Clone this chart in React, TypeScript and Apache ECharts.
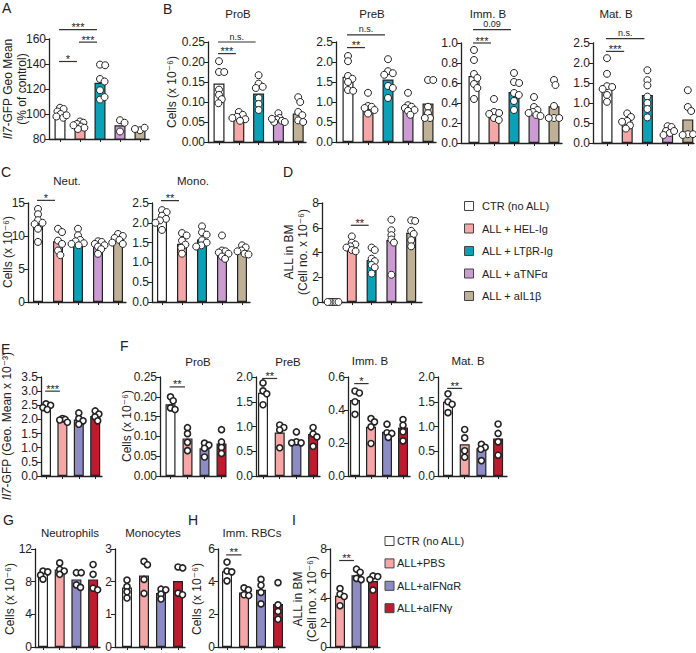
import React, { useEffect, useRef } from "react";
import * as echarts from "echarts";

const FONT = '"Liberation Sans", Arial, "DejaVu Sans", sans-serif';
const INK = "#222";

// ---------- groups ----------
const groupsTop = ["CTR (no ALL)", "ALL + HEL-Ig", "ALL + LTβR-Ig", "ALL + aTNFα", "ALL + aIL1β"];
const colorsTop = ["#ffffff", "#F4A7A6", "#0AA0B6", "#CB9BD2", "#BFB196"];
const groupsBottom = ["CTR (no ALL)", "ALL+PBS", "ALL+aIFNαR", "ALL+aIFNγ"];
const colorsBottom = ["#ffffff", "#F4A7A6", "#8D8BC6", "#BE1B2F"];

type Sig = [number, number, number, string];

// ---------- A ----------
const aTicks = ["80", "100", "120", "140", "160"];
const aBars = [100, 91, 125, 91, 88];
const aPoints = [[105, 104, 102, 100, 98, 97, 99], [94, 93, 92, 90, 89, 88, 91], [139.5, 139, 128, 126, 119, 111.5, 113.5], [95, 93, 86], [87, 89, 88]];
const aSig: Sig[] = [[0, 1, 142, "*"], [1, 2, 157.5, "***"], [0, 2, 167.5, "***"]];

// ---------- B ----------
const bProBTicks = ["0.00", "0.05", "0.10", "0.15", "0.20", "0.25"];
const bProBBars = [0.146, 0.061, 0.121, 0.057, 0.071];
const bProBPoints = [[0.202, 0.175, 0.175, 0.131, 0.118, 0.107, 0.097], [0.075, 0.068, 0.063, 0.06, 0.057, 0.053], [0.167, 0.146, 0.138, 0.135, 0.11, 0.095, 0.08], [0.072, 0.06, 0.056, 0.053, 0.05, 0.05, 0.058], [0.112, 0.1, 0.075, 0.067, 0.054, 0.05]];
const bProBSig: Sig[] = [[0, 1, 0.221, "***"], [0, 2, 0.25, "n.s."]];

const bPreBTicks = ["0.0", "0.5", "1.0", "1.5", "2.0", "2.5"];
const bPreBBars = [1.63, 0.875, 1.56, 0.86, 0.96];
const bPreBPoints = [[2.15, 2.02, 1.65, 1.58, 1.5, 1.3, 1.28], [1.23, 0.9, 0.88, 0.85, 0.8, 0.71], [2.07, 1.77, 1.72, 1.68, 1.4, 1.35, 1.1], [1.23, 0.92, 0.88, 0.85, 0.8, 0.78, 0.68], [1.55, 1.55, 0.88, 0.72, 0.6, 0.6]];
const bPreBSig: Sig[] = [[0, 1, 2.36, "**"], [0, 2, 2.68, "n.s."]];

const bImmBTicks = ["0.0", "0.2", "0.4", "0.6", "0.8", "1.0"];
const bImmBBars = [0.67, 0.293, 0.51, 0.327, 0.367];
const bImmBPoints = [[0.93, 0.83, 0.69, 0.65, 0.59, 0.55, 0.44], [0.44, 0.31, 0.3, 0.29, 0.25, 0.23], [0.7, 0.61, 0.6, 0.5, 0.48, 0.42, 0.33], [0.46, 0.36, 0.33, 0.31, 0.3, 0.28, 0.27], [0.63, 0.58, 0.37, 0.25, 0.25, 0.25]];
const bImmBSig: Sig[] = [[0, 1, 1.0, "***"], [0, 2, 1.133, "0.09"]];

const bMatBTicks = ["0.0", "0.5", "1.0", "1.5", "2.0", "2.5"];
const bMatBBars = [1.45, 0.53, 1.2, 0.32, 0.59];
const bMatBPoints = [[2.12, 1.73, 1.42, 1.4, 1.35, 1.2, 1.03], [0.74, 0.65, 0.55, 0.53, 0.44, 0.36], [1.82, 1.57, 1.44, 1.16, 1.0, 0.85, 0.64], [0.42, 0.4, 0.3, 0.25, 0.2, 0.3], [1.32, 0.9, 0.8, 0.22, 0.22, 0.2]];
const bMatBSig: Sig[] = [[0, 1, 2.29, "***"], [0, 2, 2.61, "n.s."]];

// ---------- C ----------
const cNeutTicks = ["0", "5", "10", "15"];
const cNeutBars = [11.9, 9.2, 9.35, 8.4, 9.35];
const cNeutPoints = [[14.1, 13.3, 12.4, 12.0, 11.8, 11.1, 9.1], [11.1, 10.6, 9.3, 8.8, 7.8, 7.1], [11.1, 10.1, 9.4, 9.2, 8.9, 8.8, 8.6], [9.2, 9.1, 8.8, 8.6, 8.4, 8.0, 7.3], [10.3, 10.0, 9.7, 9.4, 9.0, 8.8]];
const cNeutSig: Sig[] = [[0, 1, 15.4, "*"]];

const cMonoTicks = ["0.0", "0.5", "1.0", "1.5", "2.0", "2.5"];
const cMonoBars = [2.1, 1.47, 1.58, 1.29, 1.29];
const cMonoPoints = [[2.32, 2.27, 2.18, 2.1, 2.06, 2.0, 1.82], [1.74, 1.68, 1.55, 1.45, 1.37, 1.22], [1.91, 1.76, 1.7, 1.56, 1.5, 1.43, 1.4], [1.68, 1.3, 1.28, 1.25, 1.22, 1.15, 1.09], [1.43, 1.38, 1.3, 1.28, 1.22, 1.2]];
const cMonoSig: Sig[] = [[0, 1, 2.56, "**"]];

// ---------- D ----------
const dTicks = ["0", "2", "4", "6", "8"];
const dBars = [0, 4.6, 3.4, 5.0, 5.6];
const dPoints = [[0, 0, 0, 0, 0, 0], [5.3, 4.8, 4.65, 4.5, 4.4, 4.2, 4.1], [4.4, 4.2, 3.5, 3.3, 3.0, 2.8, 2.3], [6.65, 5.8, 5.4, 5.05, 4.8, 2.2], [6.6, 6.55, 5.75, 5.5, 5.0, 4.5]];
const dSig: Sig[] = [[1, 2, 6.2, "**"]];

// ---------- E ----------
const eTicks = ["0.0", "0.5", "1.0", "1.5", "2.0", "2.5", "3.0", "3.5"];
const eBars = [2.45, 1.95, 2.0, 2.12];
const ePoints = [[2.55, 2.5, 2.42, 2.35], [2.03, 2.0, 1.98, 1.9], [2.23, 2.03, 1.95, 1.83], [2.3, 2.19, 2.09, 1.95]];
const eSig: Sig[] = [[0, 1, 3.0, "***"]];

// ---------- F ----------
const fProBTicks = ["0.00", "0.05", "0.10", "0.15", "0.20", "0.25"];
const fProBBars = [0.181, 0.095, 0.07, 0.082];
const fProBPoints = [[0.2, 0.19, 0.172, 0.168], [0.122, 0.107, 0.085, 0.064], [0.083, 0.078, 0.07, 0.048], [0.117, 0.086, 0.072, 0.057]];
const fProBSig: Sig[] = [[0, 1, 0.225, "**"]];

const fPreBTicks = ["0.0", "0.5", "1.0", "1.5", "2.0"];
const fPreBBars = [1.68, 0.88, 0.72, 0.85];
const fPreBPoints = [[1.88, 1.72, 1.66, 1.44], [1.03, 0.98, 0.93, 0.57], [0.89, 0.69, 0.67, 0.67], [0.98, 0.85, 0.79, 0.6]];
const fPreBSig: Sig[] = [[0, 1, 1.97, "**"]];

const fImmBTicks = ["0.0", "0.2", "0.4", "0.6"];
const fImmBBars = [0.46, 0.298, 0.268, 0.294];
const fImmBPoints = [[0.515, 0.503, 0.45, 0.374], [0.348, 0.328, 0.298, 0.197], [0.314, 0.262, 0.258, 0.234], [0.342, 0.308, 0.268, 0.213]];
const fImmBSig: Sig[] = [[0, 1, 0.56, "*"]];

const fMatBTicks = ["0.0", "0.5", "1.0", "1.5", "2.0"];
const fMatBBars = [1.5, 0.64, 0.56, 0.76];
const fMatBPoints = [[1.66, 1.5, 1.45, 1.28], [0.94, 0.77, 0.51, 0.38], [0.64, 0.58, 0.54, 0.31], [1.05, 0.86, 0.69, 0.42]];
const fMatBSig: Sig[] = [[0, 1, 1.77, "**"]];

// ---------- G ----------
const gNeutTicks = ["0", "4", "8", "12"];
const gNeutBars = [9.16, 9.48, 8.28, 8.28];
const gNeutPoints = [[9.3, 9.2, 8.8, 8.3], [10.3, 9.5, 9.3, 8.9], [9.1, 9.1, 7.6, 7.3], [10.1, 8.9, 7.2, 7.0]];
const gMonoTicks = ["0", "1", "2", "3"];
const gMonoBars = [1.82, 2.19, 1.65, 2.02];
const gMonoPoints = [[2.05, 1.85, 1.69, 1.5], [2.62, 2.52, 2.07, 1.64], [1.77, 1.75, 1.62, 1.47], [2.45, 2.42, 1.65, 1.6]];

// ---------- H ----------
const hTicks = ["0", "2", "4", "6"];
const hBars = [4.64, 3.34, 3.5, 2.64];
const hPoints = [[5.2, 4.65, 4.6, 4.05], [3.62, 3.5, 3.2, 3.15], [4.14, 3.78, 3.34, 2.64], [3.94, 2.58, 2.18, 1.7]];
const hSig: Sig[] = [[0, 1, 5.64, "**"]];

// ---------- I ----------
const iTicks = ["0", "2", "4", "6", "8"];
const iBars = [4.18, 5.85, 5.39];
const iPoints = [[4.77, 4.31, 4.12, 3.37], [6.35, 6.1, 5.6, 5.5], [5.8, 5.75, 5.5, 4.65]];
const iSig: Sig[] = [[0, 1, 7.06, "**"]];

// ---------- layout ----------
interface Panel {
  colors: string[]; ticks: string[]; bars: number[]; points: number[][]; sig: Sig[];
  ax: number; c0: number; step: number; end: number; top: number; bottom: number;
  barW: number; sym: number; bw: number; gap: number; spread: number;
}
const up = { barW: 11, sym: 7, bw: 1, gap: 5.2, spread: 6.5 };
const lo = { barW: 10, sym: 6, bw: 1.6, gap: 4.8, spread: 5 };
const cTop = colorsTop;
const cBot = colorsBottom;

const panels: Panel[] = [
  { colors: cTop, ticks: aTicks, bars: aBars, points: aPoints, sig: aSig, ax: 49, c0: 60, step: 20, end: 149, top: 39, bottom: 139, ...up },
  { colors: cTop, ticks: bProBTicks, bars: bProBBars, points: bProBPoints, sig: bProBSig, ax: 208, c0: 219, step: 19.8, end: 306, top: 42, bottom: 142, ...up },
  { colors: cTop, ticks: bPreBTicks, bars: bPreBBars, points: bPreBPoints, sig: bPreBSig, ax: 336, c0: 348, step: 20, end: 436, top: 42, bottom: 142, ...up },
  { colors: cTop, ticks: bImmBTicks, bars: bImmBBars, points: bImmBPoints, sig: bImmBSig, ax: 461, c0: 474, step: 20, end: 562, top: 43, bottom: 143, ...up },
  { colors: cTop, ticks: bMatBTicks, bars: bMatBBars, points: bMatBPoints, sig: bMatBSig, ax: 593, c0: 607, step: 20.2, end: 694, top: 43, bottom: 143, ...up },
  { colors: cTop, ticks: cNeutTicks, bars: cNeutBars, points: cNeutPoints, sig: cNeutSig, ax: 28, c0: 38, step: 20, end: 126, top: 203, bottom: 302, ...up, barW: 10 },
  { colors: cTop, ticks: cMonoTicks, bars: cMonoBars, points: cMonoPoints, sig: cMonoSig, ax: 152, c0: 162, step: 20, end: 250, top: 203, bottom: 302, ...up, barW: 10 },
  { colors: cTop, ticks: dTicks, bars: dBars, points: dPoints, sig: dSig, ax: 322, c0: 332, step: 19.8, end: 422, top: 203, bottom: 302, ...up, barW: 10, gap: 4 },
  { colors: cBot, ticks: eTicks, bars: eBars, points: ePoints, sig: eSig, ax: 41, c0: 46, step: 16.4, end: 102, top: 377, bottom: 476, ...lo },
  { colors: cBot, ticks: fProBTicks, bars: fProBBars, points: fProBPoints, sig: fProBSig, ax: 160, c0: 170.5, step: 17, end: 226, top: 377, bottom: 476, ...lo },
  { colors: cBot, ticks: fPreBTicks, bars: fPreBBars, points: fPreBPoints, sig: fPreBSig, ax: 256, c0: 263, step: 16.7, end: 320, top: 377, bottom: 476, ...lo },
  { colors: cBot, ticks: fImmBTicks, bars: fImmBBars, points: fImmBPoints, sig: fImmBSig, ax: 348, c0: 355, step: 16, end: 410, top: 377, bottom: 476, ...lo },
  { colors: cBot, ticks: fMatBTicks, bars: fMatBBars, points: fMatBPoints, sig: fMatBSig, ax: 438, c0: 448, step: 16.7, end: 507, top: 377, bottom: 476, ...lo },
  { colors: cBot, ticks: gNeutTicks, bars: gNeutBars, points: gNeutPoints, sig: [], ax: 35, c0: 43, step: 16.7, end: 100, top: 549, bottom: 649, ...lo },
  { colors: cBot, ticks: gMonoTicks, bars: gMonoBars, points: gMonoPoints, sig: [], ax: 115, c0: 127, step: 17, end: 185, top: 549, bottom: 649, ...lo },
  { colors: cBot, ticks: hTicks, bars: hBars, points: hPoints, sig: hSig, ax: 218, c0: 227, step: 17, end: 285, top: 549, bottom: 649, ...lo },
  { colors: cBot.slice(1), ticks: iTicks, bars: iBars, points: iPoints, sig: iSig, ax: 330, c0: 340, step: 16.5, end: 380, top: 549, bottom: 648, ...lo },
];

const letters: [string, number, number][] = [
  ["A", 2, 8], ["B", 163, 9], ["C", 1, 172], ["D", 283, 172], ["E", 1, 349],
  ["F", 120, 346], ["G", 3, 520], ["H", 188, 520], ["I", 292, 520],
];
const titles: [string, number, number][] = [
  ["ProB", 238, 14], ["PreB", 372, 14], ["Imm. B", 488, 14], ["Mat. B", 616, 14],
  ["Neut.", 67, 181], ["Mono.", 193, 181],
  ["ProB", 198, 362], ["PreB", 288, 362], ["Imm. B", 370, 361], ["Mat. B", 468, 361],
  ["Neutrophils", 70, 533], ["Monocytes", 153, 533], ["Imm. RBCs", 252, 533],
];
const yNames: [string, number, number][] = [
  ["{i|Il7}-GFP Geo Mean\n(% of control)", 15, 89],
  ["Cells (x 10⁻⁶)", 172, 92],
  ["Cells (x 10⁻⁶)", 8, 252],
  ["ALL in BM\n(Cell no. x 10⁻⁶)", 296, 252],
  ["{i|Il7}-GFP (Geo. Mean x 10⁻³)", 7, 426],
  ["Cells (x 10⁻⁶)", 127, 426],
  ["Cells (x 10⁻⁶)", 10, 599],
  ["Cells (x 10⁻⁶)", 197, 599],
  ["ALL in BM\n(Cell no. x 10⁻⁶)", 305, 599],
];

// beeswarm-style horizontal dodge (pixels), squeezed to fit within the bar
function swarm(values: number[], pxPerUnit: number, gap: number, spread: number): number[] {
  const placed: { x: number; y: number }[] = [];
  const offs = values.map((v) => {
    const y = v * pxPerUnit;
    const cands = [0];
    placed.forEach((p) => {
      const dy = Math.abs(p.y - y);
      if (dy < gap) {
        const dx = Math.sqrt(gap * gap - dy * dy);
        cands.push(p.x + dx + 0.01, p.x - dx - 0.01);
      }
    });
    cands.sort((a, b) => Math.abs(a) - Math.abs(b));
    const ok = cands.find((c) => placed.every((p) => (p.x - c) ** 2 + (p.y - y) ** 2 >= gap * gap - 0.05));
    const x = ok ?? 0;
    placed.push({ x, y });
    return x;
  });
  const m = Math.max(...offs.map(Math.abs), 0.001);
  const k = Math.min(1, spread / m);
  return offs.map((o) => o * k);
}

function buildOption() {
  const grid: any[] = [], xAxis: any[] = [], yAxis: any[] = [], series: any[] = [];
  panels.forEach((p, k) => {
    const n = p.bars.length;
    const ymin = parseFloat(p.ticks[0]);
    const ymax = parseFloat(p.ticks[p.ticks.length - 1]);
    const interval = parseFloat(p.ticks[1]) - ymin;
    const pxPerUnit = (p.bottom - p.top) / (ymax - ymin);
    grid.push({ left: p.ax, top: p.top, width: p.end - p.ax, height: p.bottom - p.top });
    xAxis.push({
      gridIndex: k, type: "value",
      min: (p.ax - p.c0) / p.step, max: (p.end - p.c0) / p.step,
      axisLine: { show: true, onZero: false, lineStyle: { color: INK, width: 1.3 } },
      axisTick: { show: true, customValues: Array.from({ length: n }, (_, i) => i), length: 3, lineStyle: { color: INK, width: 1 } },
      axisLabel: { show: false }, splitLine: { show: false },
    });
    yAxis.push({
      gridIndex: k, type: "value", min: ymin, max: ymax, interval,
      axisLine: { show: true, onZero: false, lineStyle: { color: INK, width: 1.3 } },
      axisTick: { show: true, length: 4, lineStyle: { color: INK, width: 1 } },
      axisLabel: {
        color: INK, fontSize: 12, fontFamily: FONT, margin: 3,
        formatter: (v: number) => p.ticks.find((t) => Math.abs(parseFloat(t) - v) < 1e-6) ?? "",
      },
      splitLine: { show: false },
    });
    series.push({
      type: "bar", xAxisIndex: k, yAxisIndex: k, barWidth: p.barW, clip: true, silent: true, z: 2,
      data: p.bars.map((v, i) => ({ value: [i, v], itemStyle: { color: p.colors[i] } })),
      itemStyle: { borderColor: INK, borderWidth: 1.2 },
    });
    const pts: number[][] = [];
    p.points.forEach((vals, i) => {
      const offs = swarm(vals, pxPerUnit, p.gap, p.spread);
      vals.forEach((v, j) => pts.push([i + offs[j] / p.step, v]));
    });
    series.push({
      type: "scatter", xAxisIndex: k, yAxisIndex: k, symbol: "circle", symbolSize: p.sym, silent: true, z: 3, clip: false,
      data: pts, itemStyle: { color: "#fff", borderColor: INK, borderWidth: p.bw, opacity: 1 },
    });
    if (p.sig.length) {
      const sig = p.sig;
      series.push({
        type: "custom", xAxisIndex: k, yAxisIndex: k, silent: true, z: 4, clip: false,
        dimensions: ["x1", "x2", "y"], encode: { x: [0, 1], y: 2 },
        data: sig.map((s) => [s[0] - 0.05, s[1] - 0.15, s[2]]),
        renderItem: (params: any, api: any) => {
          const a = api.coord([api.value(0), api.value(2)]);
          const b = api.coord([api.value(1), api.value(2)]);
          const label = sig[params.dataIndex][3];
          const star = label.indexOf("*") >= 0;
          return {
            type: "group",
            children: [
              { type: "line", shape: { x1: a[0], y1: a[1], x2: b[0], y2: b[1] }, style: { stroke: "#333", lineWidth: 1.2 } },
              {
                type: "text", x: (a[0] + b[0]) / 2, y: a[1] + (star ? 3 : -1),
                style: { text: label, fill: INK, fontSize: star ? 11 : 9, fontFamily: FONT, textAlign: "center", textVerticalAlign: "bottom" },
              },
            ],
          };
        },
      });
    }
  });

  const graphic: any[] = [];
  letters.forEach(([t, x, y]) => graphic.push({ type: "text", x, y, style: { text: t, fill: INK, fontSize: 14, fontFamily: FONT, textAlign: "left", textVerticalAlign: "middle" } }));
  titles.forEach(([t, x, y]) => graphic.push({ type: "text", x, y, style: { text: t, fill: INK, fontSize: 11.5, fontFamily: FONT, textAlign: "center", textVerticalAlign: "middle" } }));
  yNames.forEach(([t, x, y]) => graphic.push({
    type: "text", x, y, rotation: Math.PI / 2,
    style: {
      text: t, fill: INK, fontSize: 12, fontFamily: FONT, textAlign: "center", textVerticalAlign: "middle", lineHeight: 14,
      rich: { i: { fontStyle: "italic", fontSize: 12, fontFamily: FONT, fill: INK } },
    },
  }));
  groupsTop.forEach((g, i) => {
    const y = 206 + i * 22.5;
    graphic.push({ type: "rect", shape: { x: 464.5, y: y - 4.5, width: 9, height: 9 }, style: { fill: colorsTop[i], stroke: "#444", lineWidth: 1 } });
    graphic.push({ type: "text", x: 482, y, style: { text: g, fill: INK, fontSize: 11, fontFamily: FONT, textAlign: "left", textVerticalAlign: "middle" } });
  });
  groupsBottom.forEach((g, i) => {
    const y = 541 + i * 22.4;
    graphic.push({ type: "rect", shape: { x: 385, y: y - 4.5, width: 9, height: 9 }, style: { fill: colorsBottom[i], stroke: "#444", lineWidth: 1 } });
    graphic.push({ type: "text", x: 397, y, style: { text: g, fill: INK, fontSize: 11, fontFamily: FONT, textAlign: "left", textVerticalAlign: "middle" } });
  });

  return { animation: false, backgroundColor: "#fff", grid, xAxis, yAxis, series, graphic };
}

export default function App() {
  const ref = useRef<HTMLDivElement>(null);
  useEffect(() => {
    if (!ref.current) return;
    const chart = echarts.init(ref.current, undefined, { renderer: "svg" });
    chart.setOption(buildOption() as any);
    return () => chart.dispose();
  }, []);
  return <div ref={ref} style={{ position: "absolute", left: 0, top: 0, width: 696, height: 653, background: "#fff" }} />;
}
